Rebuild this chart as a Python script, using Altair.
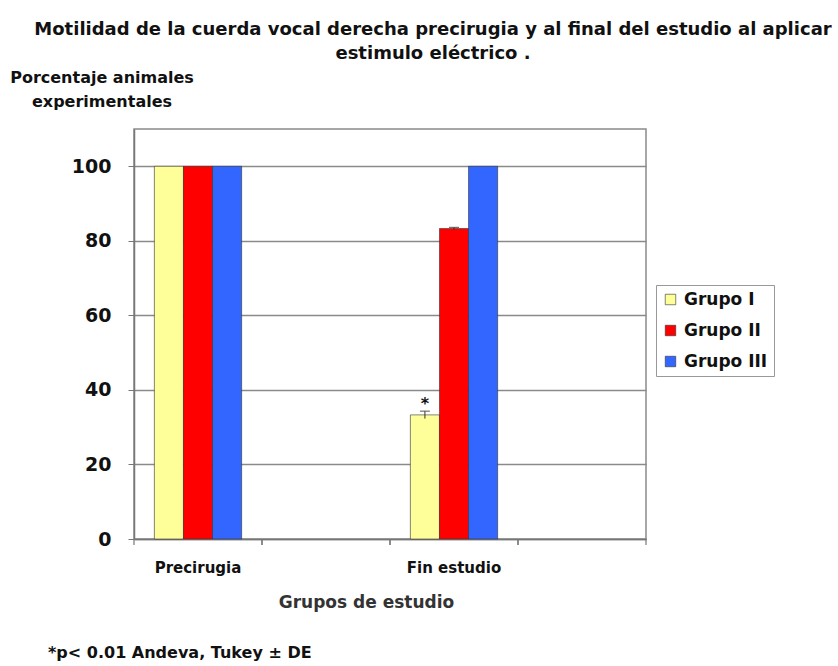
import altair as alt
import pandas as pd

# Study moments on the x axis (two blank slots keep the original spacing)
moments = ["Precirugia", " ", "Fin estudio", "  "]
groups = ["Grupo I", "Grupo II", "Grupo III"]

# Percentage of experimental animals with right vocal cord motility
pre_values = [100, 100, 100]
fin_values = [33.3, 83.3, 100]
# Standard deviation (only reported at the end of the study)
pre_sd = [0, 0, 0]
fin_sd = [1.0, 0.3, 0]
# Significance marks
fin_marks = ["*", "", ""]

colors = ["#FFFF99", "#FF0000", "#3366FF"]

rows = []
for g, v, s in zip(groups, pre_values, pre_sd):
    rows.append({"momento": "Precirugia", "grupo": g, "valor": v, "de": s, "marca": ""})
for g, v, s, m in zip(groups, fin_values, fin_sd, fin_marks):
    rows.append({"momento": "Fin estudio", "grupo": g, "valor": v, "de": s, "marca": m})
df = pd.DataFrame(rows)
df["lo"] = df["valor"] - df["de"]
df["hi"] = df["valor"] + df["de"]

FONT = "DejaVu Sans"


def x_enc(**kw):
    """Shared category axis; ticks are drawn separately on the band edges."""
    return alt.X(
        "momento:N",
        scale=alt.Scale(domain=moments, paddingInner=0, paddingOuter=0),
        axis=alt.Axis(
            title="Grupos de estudio",
            titleX=232,
            titleAlign="center",
            labelAngle=0,
            labelFont=FONT,
            labelFontSize=15,
            labelFontWeight="bold",
            labelColor="#111111",
            labelPadding=15,
            tickSize=6,
            tickOpacity=0,
            domainColor="#777777",
            domainWidth=1.5,
            titleFont=FONT,
            titleFontSize=17,
            titleFontWeight="bold",
            titleColor="#333333",
            titlePadding=19,
            grid=False,
        ),
        **kw,
    )


xoff_enc = alt.XOffset(
    "grupo:N",
    scale=alt.Scale(domain=groups, paddingInner=0, paddingOuter=0.7),
)
y_scale = alt.Scale(domain=[0, 110], nice=False)

bars = alt.Chart(df).mark_bar(stroke="#333333", strokeWidth=0.6).encode(
    x=x_enc(),
    xOffset=xoff_enc,
    y=alt.Y(
        "valor:Q",
        scale=y_scale,
        axis=alt.Axis(
            values=[0, 20, 40, 60, 80, 100],
            title=None,
            labelFont=FONT,
            labelFontSize=19,
            labelFontWeight="bold",
            labelColor="#111111",
            labelPadding=17,
            tickSize=6,
            tickColor="#777777",
            domainColor="#777777",
            domainWidth=1.5,
            grid=True,
            gridColor="#8a8a8a",
            gridWidth=1.5,
        ),
    ),
    color=alt.Color(
        "grupo:N",
        scale=alt.Scale(domain=groups, range=colors),
        legend=alt.Legend(
            title=None,
            orient="none",
            legendX=522,
            legendY=156,
            symbolType="square",
            symbolSize=110,
            symbolStrokeColor="#333333",
            symbolStrokeWidth=0.6,
            labelFont=FONT,
            labelFontSize=17,
            labelFontWeight="bold",
            labelColor="#111111",
            labelOffset=5,
            rowPadding=13,
            padding=6,
            strokeColor="#999999",
            fillColor="white",
        ),
    ),
)

# Category-boundary ticks below the x axis (start and end of every band)
edges = pd.DataFrame({"momento": moments})
edge_start = alt.Chart(edges).mark_rule(color="#777777", strokeWidth=1.2).encode(
    x=x_enc(bandPosition=0), y=alt.value(410), y2=alt.value(416)
)
edge_end = alt.Chart(edges).mark_rule(color="#777777", strokeWidth=1.2).encode(
    x=x_enc(bandPosition=1), y=alt.value(410), y2=alt.value(416)
)

err = alt.Chart(df).transform_filter("datum.de > 0")
err_line = err.mark_rule(color="#333333", strokeWidth=1).encode(
    x=x_enc(), xOffset=xoff_enc, y=alt.Y("lo:Q", scale=y_scale), y2="hi:Q"
)
err_cap = err.mark_tick(color="#333333", thickness=1.2, size=10).encode(
    x=x_enc(), xOffset=xoff_enc, y=alt.Y("hi:Q", scale=y_scale)
)
stars = alt.Chart(df).transform_filter("datum.marca != ''").mark_text(
    font=FONT, fontSize=16, fontWeight="bold", color="#111111", dy=1, baseline="bottom"
).encode(
    x=x_enc(), xOffset=xoff_enc, y=alt.Y("hi:Q", scale=y_scale), text="marca:N"
)

# Y axis caption, written horizontally above the axis
y_caption = alt.Chart(pd.DataFrame({"t": ["Porcentaje animales\nexperimentales"]})).mark_text(
    font=FONT, fontSize=16, fontWeight="bold", color="#111111",
    align="center", baseline="middle", lineBreak="\n", lineHeight=24,
).encode(x=alt.value(-32), y=alt.value(-51), text="t:N")

footnote = alt.Chart(pd.DataFrame({"t": ["*p< 0.01 Andeva, Tukey \u00b1 DE"]})).mark_text(
    font=FONT, fontSize=16, fontWeight="bold", color="#111111", align="left", baseline="middle"
).encode(x=alt.value(-86), y=alt.value(524), text="t:N")

chart = alt.layer(
    bars, edge_start, edge_end, err_line, err_cap, stars, y_caption, footnote
).properties(
    width=512,
    height=410,
    title=alt.TitleParams(
        text=[
            "Motilidad de la cuerda vocal derecha precirugia y al final del estudio al aplicar",
            "estimulo eléctrico .",
        ],
        font=FONT,
        fontSize=18,
        fontWeight="bold",
        color="#111111",
        anchor="middle",
        frame="group",
        dx=43,
        offset=7,
        lineHeight=24,
    ),
    autosize=alt.AutoSizeParams(type="none"),
    padding={"left": 134, "top": 129, "right": 192, "bottom": 127},
).configure_view(stroke="#8a8a8a", strokeWidth=1.5)

chart.save("out.html", embed_options={"renderer": "svg", "actions": False})
